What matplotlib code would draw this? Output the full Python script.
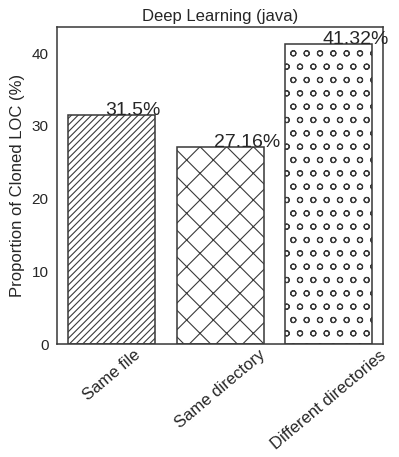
import matplotlib.pyplot as plt
import seaborn as sns

categories = ['Same file', 'Same directory', 'Different directories']
values = [31.5, 27.16, 41.32]
labels = ['31.5%', '27.16%', '41.32%']
hatches = ['////', 'x', 'o']

sns.set_theme(style='white')
plt.rcParams['font.family'] = ['Liberation Sans', 'DejaVu Sans']
plt.rcParams['hatch.linewidth'] = 1.0
plt.rcParams['hatch.color'] = '#333333'

# figure drawn at 80 dpi so hatch spacing matches the reference
dpi = 80
fig, ax = plt.subplots(figsize=(399 / dpi, 457 / dpi), dpi=dpi)
bars = ax.bar(categories, values, width=0.8, color='white', edgecolor='#3a3a3a', linewidth=1.4)
for b, h in zip(bars, hatches):
    b.set_hatch(h)

for b, lab in zip(bars, labels):
    ax.text(b.get_x() + b.get_width() / 2 - 0.06, b.get_height(), lab, fontsize=17.5, ha='left', va='baseline', color='#262626')

ax.set_xlim(-0.5, 2.5)
ax.set_ylim(0, 43.6)
ax.set_yticks([0, 10, 20, 30, 40])
ax.set_ylabel('Proportion of Cloned LOC (%)', fontsize=15, labelpad=6)
ax.set_title('Deep Learning (java)', fontsize=15, pad=5)
ax.tick_params(axis='y', labelsize=13.75, length=0, pad=7.5)
ax.tick_params(axis='x', labelrotation=40, labelsize=15, length=0, pad=3)
for spine in ax.spines.values():
    spine.set_linewidth(1.4)
    spine.set_color('#3a3a3a')

fig.subplots_adjust(left=0.143, right=0.96, top=0.941, bottom=0.247)
fig.savefig('out.png', dpi=dpi)
